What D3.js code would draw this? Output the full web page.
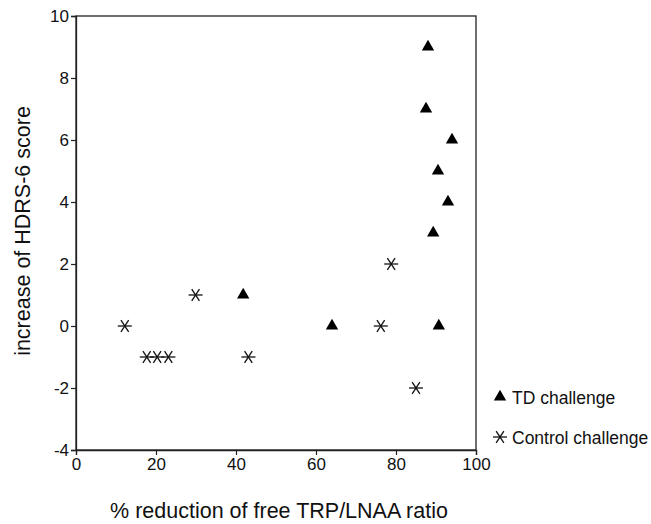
<!DOCTYPE html>
<html>
<head>
<meta charset="utf-8">
<script src="https://cdn.jsdelivr.net/npm/d3@7"></script>
<style>
  body { margin: 0; background: #fff; }
  svg { font-family: Arial, "Liberation Sans", sans-serif; }
</style>
</head>
<body>
<div id="chart"></div>
<script>
// TD challenge (triangles)
const tdX = [88, 87.5, 94, 90.5, 93, 89.3, 41.8, 64, 90.7];
const tdY = [9, 7, 6, 5, 4, 3, 1, 0, 0];

// Control challenge (asterisks)
const ctrlX = [12.2, 17.7, 20.3, 23.1, 29.9, 43.1, 78.8, 76.2, 85];
const ctrlY = [0, -1, -1, -1, 1, -1, 2, 0, -2];

const xTicks = [0, 20, 40, 60, 80, 100];
const yTicks = [-4, -2, 0, 2, 4, 6, 8, 10];
const legendLabels = ['TD challenge', 'Control challenge'];

const W = 651, H = 524;
const margin = { left: 76, top: 16, right: 175, bottom: 74 };

const svg = d3.select('#chart').append('svg')
  .attr('width', W).attr('height', H);

const x = d3.scaleLinear().domain([0, 100]).range([margin.left, W - margin.right]);
const y = d3.scaleLinear().domain([-4, 10]).range([H - margin.bottom, margin.top]);

// frame
svg.append('rect')
  .attr('x', x(0)).attr('y', y(10))
  .attr('width', x(100) - x(0)).attr('height', y(-4) - y(10))
  .attr('fill', 'none').attr('stroke', '#222').attr('stroke-width', 1.3);

// plain hyphen for negatives, as in the original figure
const fmt = d => String(d);

const xAxis = svg.append('g')
  .attr('transform', `translate(0,${y(-4)})`)
  .call(d3.axisBottom(x).tickValues(xTicks).tickSize(5).tickPadding(3).tickFormat(fmt));
const yAxis = svg.append('g')
  .attr('transform', `translate(${x(0)},0)`)
  .call(d3.axisLeft(y).tickValues(yTicks).tickSize(5).tickPadding(2).tickFormat(fmt));

[xAxis, yAxis].forEach(g => {
  g.select('.domain').attr('stroke', '#222').attr('stroke-width', 1.3);
  g.selectAll('.tick line').attr('stroke', '#222').attr('stroke-width', 1.2);
  g.selectAll('.tick text').attr('fill', '#111').style('font-size', '17px')
    .style('font-family', 'Arial, "Liberation Sans", sans-serif');
});

// axis titles
svg.append('text')
  .attr('x', 279).attr('y', 518)
  .attr('text-anchor', 'middle')
  .style('font-size', '21.5px').attr('fill', '#111')
  .text('% reduction of free TRP/LNAA ratio');

svg.append('text')
  .attr('transform', `translate(30,231) rotate(-90)`)
  .attr('text-anchor', 'middle')
  .style('font-size', '21.5px').attr('fill', '#111')
  .text('increase of HDRS-6 score');

const triangle = d3.symbol().type(d3.symbolTriangle).size(66);

function asterisk(g) {
  const r = 7;
  g.append('line').attr('x1', -r).attr('x2', r).attr('y1', 0).attr('y2', 0);
  g.append('line').attr('x1', -r * 0.55).attr('x2', r * 0.55).attr('y1', -r * 0.85).attr('y2', r * 0.85);
  g.append('line').attr('x1', r * 0.55).attr('x2', -r * 0.55).attr('y1', -r * 0.85).attr('y2', r * 0.85);
  g.selectAll('line').attr('stroke', '#111').attr('stroke-width', 1.3);
}

const tdData = tdX.map((v, i) => ({ x: v, y: tdY[i] }));
const ctrlData = ctrlX.map((v, i) => ({ x: v, y: ctrlY[i] }));

svg.append('g').selectAll('path')
  .data(tdData)
  .join('path')
  .attr('d', triangle)
  .attr('transform', d => `translate(${x(d.x)},${y(d.y)})`)
  .attr('fill', '#000');

svg.append('g').selectAll('g')
  .data(ctrlData)
  .join('g')
  .attr('transform', d => `translate(${x(d.x)},${y(d.y)})`)
  .each(function () { asterisk(d3.select(this)); });

// legend
const lg = svg.append('g').attr('transform', 'translate(500,397)');
lg.append('path').attr('d', triangle).attr('fill', '#000');
lg.append('text').attr('x', 12).attr('y', 7)
  .style('font-size', '17.5px').attr('fill', '#111').text(legendLabels[0]);
const lg2 = svg.append('g').attr('transform', 'translate(500,437)');
asterisk(lg2);
lg2.append('text').attr('x', 12).attr('y', 6.5)
  .style('font-size', '17.5px').attr('fill', '#111').text(legendLabels[1]);
</script>
</body>
</html>
